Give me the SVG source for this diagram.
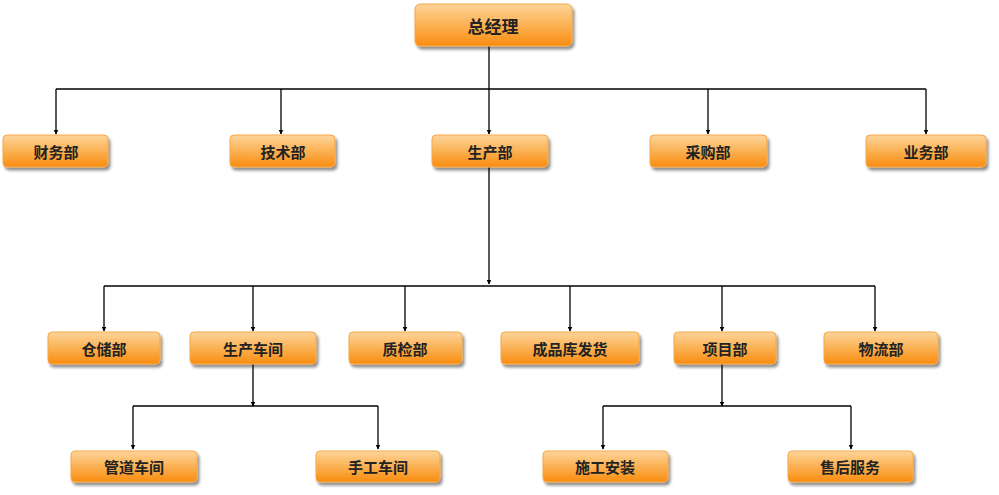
<svg xmlns="http://www.w3.org/2000/svg" width="999" height="495" viewBox="0 0 999 495">
<defs>
<linearGradient id="g" x1="0" y1="0" x2="0" y2="1">
<stop offset="0" stop-color="#fdd49a"/>
<stop offset="0.45" stop-color="#fbb55a"/>
<stop offset="1" stop-color="#f98c10"/>
</linearGradient>
<filter id="sh" x="-10%" y="-20%" width="125%" height="160%">
<feGaussianBlur in="SourceAlpha" stdDeviation="1.5"/>
<feOffset dx="2" dy="2.5" result="b"/>
<feComponentTransfer><feFuncA type="linear" slope="0.45"/></feComponentTransfer>
<feMerge><feMergeNode/><feMergeNode in="SourceGraphic"/></feMerge>
</filter>
<marker id="a" viewBox="0 0 10 10" refX="9" refY="5" markerWidth="5" markerHeight="5" orient="auto" markerUnits="userSpaceOnUse">
<path d="M0,0 L10,5 L0,10 z" fill="#000"/>
</marker>
</defs>
<style>
.b{fill:url(#g);stroke:#f4a848;stroke-width:1;filter:url(#sh)}
.t{font-family:"Noto Sans CJK SC","Noto Sans",sans-serif;font-weight:bold;font-size:15px;fill:#222;text-anchor:middle;dominant-baseline:central}
.c{fill:none;stroke:#000;stroke-width:1.3}
.c path{marker-end:url(#a)}
</style>
<rect width="999" height="495" fill="#fff"/>
<g id="connectors" class="c">
<line x1="489" y1="46" x2="489" y2="89"/>
<line x1="56" y1="89" x2="926" y2="89"/>
<path d="M56,89 V134"/>
<path d="M281,89 V134"/>
<path d="M489,89 V134"/>
<path d="M708,89 V134"/>
<path d="M926,89 V134"/>
<path d="M489,167 V284"/>
<line x1="104" y1="286" x2="875" y2="286"/>
<path d="M104,286 V331"/>
<path d="M253,286 V331"/>
<path d="M405,286 V331"/>
<path d="M570,286 V331"/>
<path d="M722,286 V331"/>
<path d="M875,286 V331"/>
<path d="M253,364 V406"/>
<line x1="133" y1="406" x2="378" y2="406"/>
<path d="M133,406 V449"/>
<path d="M378,406 V449"/>
<path d="M722,364 V406"/>
<line x1="603" y1="406" x2="851" y2="406"/>
<path d="M603,406 V449"/>
<path d="M851,406 V449"/>
</g>
<g id="n0"><rect class="b" x="415" y="4" width="157" height="42" rx="5"/><text class="t" x="493" y="25" style="font-size:17px">总经理</text></g>
<g id="n1"><rect class="b" x="3" y="135" width="105" height="32" rx="4"/><text class="t" x="56" y="151">财务部</text></g>
<g id="n2"><rect class="b" x="230" y="135" width="105" height="32" rx="4"/><text class="t" x="283" y="151">技术部</text></g>
<g id="n3"><rect class="b" x="432" y="135" width="116" height="32" rx="4"/><text class="t" x="490" y="151">生产部</text></g>
<g id="n4"><rect class="b" x="650" y="135" width="117" height="32" rx="4"/><text class="t" x="708" y="151">采购部</text></g>
<g id="n5"><rect class="b" x="866" y="135" width="120" height="32" rx="4"/><text class="t" x="926" y="151">业务部</text></g>
<g id="n6"><rect class="b" x="48" y="332" width="112" height="32" rx="4"/><text class="t" x="104" y="348">仓储部</text></g>
<g id="n7"><rect class="b" x="190" y="332" width="126" height="32" rx="4"/><text class="t" x="253" y="348">生产车间</text></g>
<g id="n8"><rect class="b" x="349" y="332" width="113" height="32" rx="4"/><text class="t" x="405" y="348">质检部</text></g>
<g id="n9"><rect class="b" x="501" y="332" width="138" height="32" rx="4"/><text class="t" x="570" y="348">成品库发货</text></g>
<g id="n10"><rect class="b" x="674" y="332" width="102" height="32" rx="4"/><text class="t" x="725" y="348">项目部</text></g>
<g id="n11"><rect class="b" x="824" y="332" width="114" height="32" rx="4"/><text class="t" x="881" y="348">物流部</text></g>
<g id="n12"><rect class="b" x="71" y="451" width="126" height="31" rx="4"/><text class="t" x="134" y="466">管道车间</text></g>
<g id="n13"><rect class="b" x="316" y="451" width="124" height="31" rx="4"/><text class="t" x="378" y="466">手工车间</text></g>
<g id="n14"><rect class="b" x="543" y="451" width="125" height="31" rx="4"/><text class="t" x="605" y="466">施工安装</text></g>
<g id="n15"><rect class="b" x="788" y="451" width="125" height="31" rx="4"/><text class="t" x="850" y="466">售后服务</text></g>
</svg>
